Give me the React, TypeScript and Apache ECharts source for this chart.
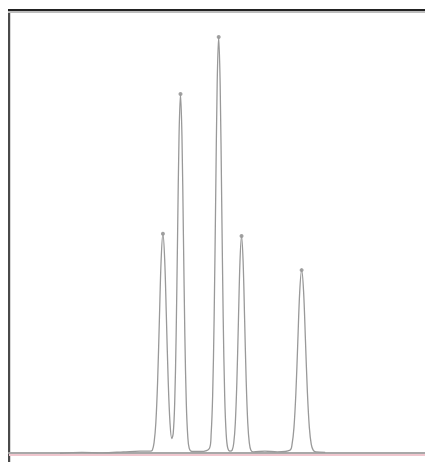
import React, { useEffect, useRef } from "react";
import * as echarts from "echarts";

// retention time (min) and detector response (%)
const traceTimes: number[] = [
  2.45, 3.5, 4.5, 5.5, 6.3, 6.8,
  6.89, 6.975, 7.06, 7.145, 7.23, 7.315, 7.4, 7.485, 7.57, 7.655, 7.74,
  7.825, 7.895, 7.965, 8.035, 8.105, 8.175, 8.245, 8.315, 8.385, 8.455, 8.525, 8.595, 8.665, 8.8,
  9.2, 9.645, 9.7175, 9.79, 9.8625, 9.935, 10.0075, 10.08, 10.1525, 10.225, 10.2975, 10.37, 10.4425, 10.515,
  10.62, 10.73, 10.805, 10.88, 10.955, 11.03, 11.105, 11.18, 11.255, 11.33, 11.405, 11.48, 11.555, 11.63, 11.75,
  12.3, 12.9, 13.515, 13.6075, 13.7, 13.7925, 13.885, 13.9775, 14.07, 14.1625, 14.255, 14.3475, 14.44, 14.5325, 14.625, 14.75,
  15.2,
];
const traceValues: number[] = [
  -0.2, 0.0, -0.1, 0.1, 0.3, 0.3,
  0.5, 2.2, 6.7, 16.0, 30.0, 43.6, 49.4, 43.6, 30.0, 16.0, 6.7,
  3.1, 4.3, 11.0, 26.3, 49.1, 71.5, 81.0, 71.5, 49.1, 26.3, 11.0, 3.6, 0.9, 0.2,
  0.2, 1.0, 4.1, 12.7, 30.5, 57.0, 83.0, 93.9, 83.0, 57.0, 30.5, 12.7, 4.1, 1.0,
  0.3, 0.5, 2.1, 6.6, 15.9, 29.7, 43.2, 48.9, 43.2, 29.7, 15.9, 6.6, 2.1, 0.5, 0.1,
  0.3, 0.1, 0.5, 1.8, 5.6, 13.4, 25.0, 36.4, 41.2, 36.4, 25.0, 13.4, 5.6, 1.8, 0.5, 0.1,
  0.0,
];
const apexTimes: number[] = [7.4, 8.245, 10.08, 11.18, 14.07];
const apexValues: number[] = [49.4, 81.0, 93.9, 48.9, 41.2];
const baselineLevel = -0.5;

export default function App() {
  const ref = useRef<HTMLDivElement>(null);
  useEffect(() => {
    if (!ref.current) return;
    const chart = echarts.init(ref.current, undefined, { renderer: "svg" });
    chart.setOption({
      animation: false,
      backgroundColor: "#ffffff",
      grid: { left: 9, right: 0, top: 10, bottom: 5 },
      xAxis: {
        type: "value",
        min: 0,
        max: 20,
        axisLine: { show: true, lineStyle: { color: "#a8a8a8", width: 2 } },
        axisTick: { show: false },
        axisLabel: { show: false },
        splitLine: { show: false },
      },
      yAxis: {
        type: "value",
        min: -1.5,
        max: 100,
        axisLine: { show: false },
        axisTick: { show: false },
        axisLabel: { show: false },
        splitLine: { show: false },
      },
      graphic: [
        { type: "rect", shape: { x: 8, y: 12, width: 3, height: 450 }, style: { fill: "#d8d8d8" }, silent: true },
        { type: "rect", shape: { x: 8, y: 9, width: 2, height: 453 }, style: { fill: "#4a4a4a" }, silent: true },
        { type: "rect", shape: { x: 8, y: 11, width: 417, height: 2 }, style: { fill: "#bdbdbd" }, silent: true },
        { type: "rect", shape: { x: 8, y: 9, width: 417, height: 2 }, style: { fill: "#222222" }, silent: true },
      ],
      series: [
        {
          type: "line",
          data: [],
          markLine: {
            silent: true,
            symbol: ["none", "none"],
            label: { show: false },
            lineStyle: { color: "#f0c6ce", width: 2, type: "solid" },
            data: [{ yAxis: baselineLevel }],
          },
        },
        {
          type: "line",
          data: traceTimes.map((t, i) => [t, traceValues[i]]),
          smooth: 0.35,
          showSymbol: false,
          lineStyle: { color: "#999999", width: 1.3 },
        },
        {
          type: "scatter",
          data: apexTimes.map((t, i) => [t, apexValues[i]]),
          symbolSize: 4,
          itemStyle: { color: "#8a8a8a" },
        },
      ],
    });
    return () => chart.dispose();
  }, []);
  return (
    <div
      ref={ref}
      style={{ position: "fixed", left: 0, top: 0, width: 425, height: 464 }}
    />
  );
}
